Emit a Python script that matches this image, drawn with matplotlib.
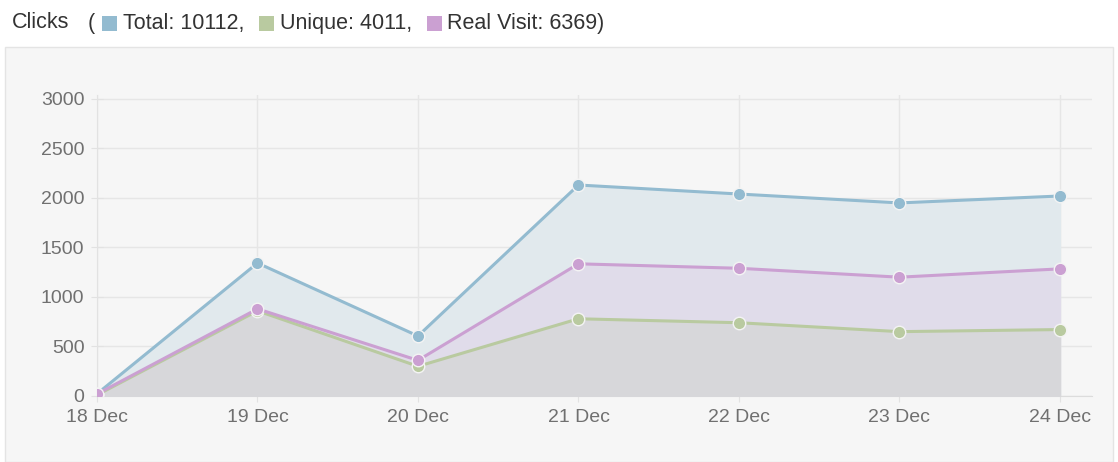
import matplotlib
matplotlib.use('Agg')
import matplotlib.pyplot as plt
from matplotlib.patches import Rectangle

plt.rcParams['font.family'] = ['Liberation Sans', 'DejaVu Sans']

dates = ['18 Dec', '19 Dec', '20 Dec', '21 Dec', '22 Dec', '23 Dec', '24 Dec']
total = [22, 1343, 606, 2131, 2040, 1950, 2020]
unique = [10, 860, 300, 780, 740, 650, 671]
real_visit = [20, 880, 360, 1335, 1290, 1200, 1284]
yticks = [0, 500, 1000, 1500, 2000, 2500, 3000]

c_total = '#93bbd0'
c_unique = '#b9caa0'
c_real = '#cba0d2'

W, H = 1118, 462
fig = plt.figure(figsize=(W / 100, H / 100), dpi=100)

# grey panel behind the chart
fig.patches.append(Rectangle((5 / W, 0), 1108 / W, 415 / H, transform=fig.transFigure,
                             facecolor='#f6f6f6', edgecolor='#e4e4e4', lw=1, zorder=-10))

# title line with coloured squares
ty = 1 - 23 / H
fs = 15.5
fig.text(12 / W, ty, 'Clicks', fontsize=fs, color='#333333', va='center')
fig.text(88 / W, ty, '(', fontsize=fs, color='#333333', va='center')
pieces = [(102, c_total, 123, 'Total: 10112,'),
          (259, c_unique, 280, 'Unique: 4011,'),
          (427, c_real, 447, 'Real Visit: 6369)')]
for sx, col, tx, txt in pieces:
    fig.patches.append(Rectangle((sx / W, 1 - 31 / H), 15 / W, 15 / H, transform=fig.transFigure,
                                 facecolor=col, edgecolor='none'))
    fig.text(tx / W, ty, txt, fontsize=fs, color='#333333', va='center')

ax = fig.add_axes([97 / W, 1 - 396 / H, 995 / W, 301 / H])
ax.set_facecolor('#f6f6f6')
x = list(range(len(dates)))

ax.fill_between(x, total, color='#e1e9ed', zorder=1)
ax.fill_between(x, real_visit, color='#e0dcea', zorder=2)
ax.fill_between(x, unique, color='#d7d7da', zorder=3)

for vals, col, z in [(total, c_total, 5), (unique, c_unique, 6), (real_visit, c_real, 7)]:
    ax.plot(x, vals, color=col, lw=2.2, marker='o', ms=9, mfc=col, mec='#f4f4f4', mew=1, zorder=z)

ax.set_xlim(0, 6.2)
ax.set_ylim(0, 3040)
ax.set_xticks(x)
ax.set_xticklabels(dates)
ax.set_yticks(yticks)
ax.grid(True, color='#e6e6e6', lw=1, zorder=0)
ax.set_axisbelow(True)
for s in ['top', 'right']:
    ax.spines[s].set_visible(False)
ax.spines['left'].set_color('#e2e2e2')
ax.spines['bottom'].set_color('#dcdcdc')
ax.tick_params(axis='both', colors='#e2e2e2', labelcolor='#707070', labelsize=14, length=8, direction='inout')
ax.tick_params(axis='x', pad=5)
ax.tick_params(axis='y', pad=5)

fig.savefig('out.png', dpi=100, facecolor='white')
